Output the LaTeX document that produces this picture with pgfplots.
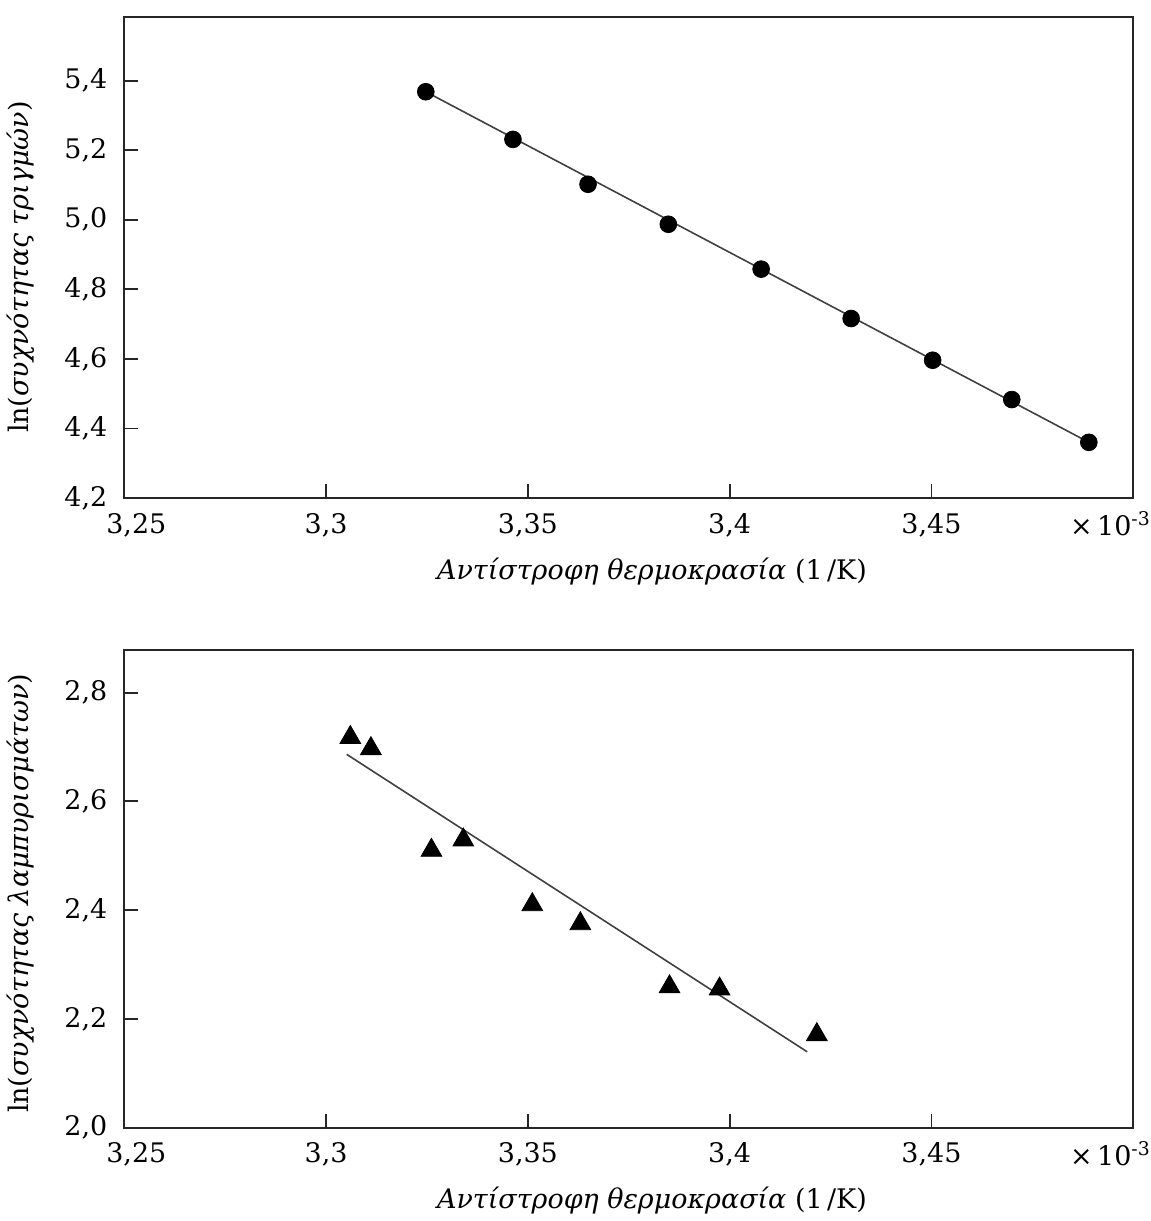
\documentclass[border=0pt]{standalone}
\usepackage{fontspec}
\setmainfont{DejaVu Serif}
\usepackage{pgfplots}
\pgfplotsset{compat=1.18}

\pgfplotsset{
  arrh/.style={
    scale only axis, width=505.5pt,
    xmin=3.25, xmax=3.5,
    xtick={3.25,3.3,3.35,3.4,3.45},
    xticklabels={{\hspace*{12pt}3,25},{3,3},{3,35},{3,4},{3,45}},
    axis line style={black!85,line width=0.9pt},
    tick style={black!85,line width=0.9pt},
    major tick length=7pt,
    xtick pos=bottom, ytick pos=left, tick align=inside,
    clip=false,
    /pgf/number format/assume math mode=true,
    tick label style={font=\fontsize{13.5}{16}\selectfont},
    label style={font=\fontsize{13.5}{16}\selectfont},
    xticklabel style={yshift=-4pt},
    yticklabel style={xshift=-5pt,/pgf/number format/.cd,fixed,fixed zerofill,precision=1,use comma},
    xlabel={\textit{Αντίστροφη θερμοκρασία} (1\,/K)},
    xlabel style={at={(axis description cs:0.523,-0.153)},anchor=center},
  }
}

\begin{document}
\begin{tikzpicture}
% top: chirp frequency
\begin{axis}[arrh, name=top, height=241pt, at={(0,0)}, anchor=south west,
  ymin=4.2, ymax=5.583,
  ytick={4.2,4.4,4.6,4.8,5.0,5.2,5.4},
  ylabel={ln(\textit{συχνότητας τριγμών})},
  ylabel style={at={(axis description cs:-0.103,0.48)},anchor=center}]
\addplot[black!75,line width=0.8pt] coordinates {(3.3247,5.368)(3.489,4.360)};
\addplot[only marks,mark=*,mark size=4.2pt,black] coordinates {
 (3.3247,5.368)(3.3463,5.231)(3.3649,5.102)(3.3848,4.987)(3.4078,4.858)
 (3.4301,4.716)(3.4503,4.596)(3.4699,4.483)(3.4890,4.360)};
\node[anchor=north east,inner sep=0pt,font=\fontsize{13.5}{16}\selectfont] at (rel axis cs:1,0) [xshift=9pt,yshift=-6.5pt] {×\,10\textsuperscript{-3}};
\end{axis}

% bottom: flash frequency
\begin{axis}[arrh, height=239.5pt, at={(0,-76pt)}, anchor=north west,
  ymin=2.0, ymax=2.879,
  ytick={2.0,2.2,2.4,2.6,2.8},
  ylabel={ln(\textit{συχνότητας λαμπυρισμάτων})},
  ylabel style={at={(axis description cs:-0.103,0.49)},anchor=center}]
\addplot[black!75,line width=0.8pt] coordinates {(3.3051,2.6865)(3.4192,2.1395)};
\addplot[only marks,mark=triangle*,mark size=6pt,black] coordinates {
 (3.3060,2.7175)(3.3111,2.697)(3.3261,2.510)(3.3340,2.529)(3.3511,2.410)
 (3.3630,2.375)(3.3851,2.259)(3.3975,2.255)(3.4216,2.171)};
\node[anchor=north east,inner sep=0pt,font=\fontsize{13.5}{16}\selectfont] at (rel axis cs:1,0) [xshift=9pt,yshift=-6.5pt] {×\,10\textsuperscript{-3}};
\end{axis}
% blank margin above the top frame, as in the reference
\path ([yshift=8.5pt]top.north west);
\end{tikzpicture}
\end{document}
